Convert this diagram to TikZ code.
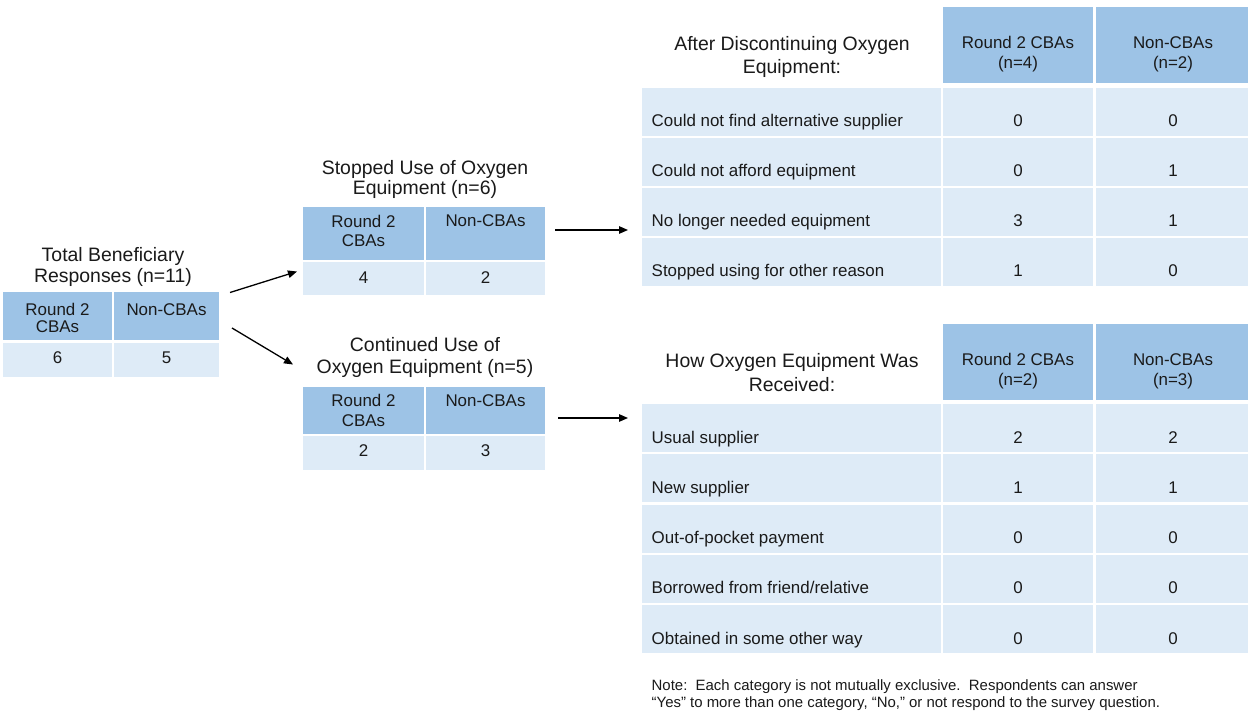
\documentclass[tikz,border=0pt]{standalone}
\usepackage{fontspec}
\setmainfont{Liberation Sans}
\usetikzlibrary{arrows.meta}
\definecolor{hdrblue}{HTML}{9DC3E6}
\definecolor{rowblue}{HTML}{DEEBF7}
\definecolor{txt}{HTML}{1A1A1A}
\tikzset{
  hdrcell/.style={fill=hdrblue},
  rowcell/.style={fill=rowblue},
  ttl/.style={font=\fontsize{19.5}{21}\selectfont, align=center, anchor=base},
  cel/.style={font=\fontsize{17}{19}\selectfont, align=center, anchor=base},
  lab/.style={font=\fontsize{17}{19}\selectfont, anchor=base west},
  notetxt/.style={font=\fontsize{15}{17}\selectfont, align=left, anchor=base west},
  conn/.style={line width=1.3bp, -{Triangle[length=9bp,width=7.5bp]}}
}
\begin{document}
\begin{tikzpicture}[x=1bp, y=-1bp, every node/.style={text=txt, inner sep=0pt}]
\useasboundingbox[fill=white] (0,0) rectangle (1248,711);
% (multi-line nodes: anchor base = baseline of the last line)

% ---------- left table ----------
\node[ttl, font=\fontsize{19.5}{21}\selectfont] (ltitle) at (113,282) {Total Beneficiary\\Responses (n=11)};
\fill[hdrcell] (3,292) rectangle (112,340);
\fill[hdrcell] (114,292) rectangle (219,340);
\fill[rowcell] (3,342.5) rectangle (112,377);
\fill[rowcell] (114,342.5) rectangle (219,377);
\node[cel, font=\fontsize{17}{17}\selectfont] (lh1) at (57.5,332) {Round 2\\CBAs};
\node[cel] (lh2) at (166.5,315) {Non-CBAs};
\node[cel] (lv1) at (57.5,363) {6};
\node[cel] (lv2) at (166.5,363) {5};

% ---------- middle top table ----------
\node[ttl, font=\fontsize{19.5}{20.5}\selectfont] (mttitle) at (425,194.5) {Stopped Use of Oxygen\\Equipment (n=6)};
\fill[hdrcell] (303,207) rectangle (424,260);
\fill[hdrcell] (426,207) rectangle (545,260);
\fill[rowcell] (303,262) rectangle (424,294.5);
\fill[rowcell] (426,262) rectangle (545,294.5);
\node[cel, font=\fontsize{17}{19.5}\selectfont] (mth1) at (363.5,246.5) {Round 2\\CBAs};
\node[cel] (mth2) at (485.5,227) {Non-CBAs};
\node[cel] (mtv1) at (363.5,283.3) {4};
\node[cel] (mtv2) at (485.5,283.3) {2};

% ---------- middle bottom table ----------
\node[ttl, font=\fontsize{19.5}{22}\selectfont] (mbtitle) at (425,373) {Continued Use of\\Oxygen Equipment (n=5)};
\fill[hdrcell] (303,387) rectangle (424,434);
\fill[hdrcell] (426,387) rectangle (545,434);
\fill[rowcell] (303,436) rectangle (424,470);
\fill[rowcell] (426,436) rectangle (545,470);
\node[cel, font=\fontsize{17}{20}\selectfont] (mbh1) at (363.5,426.7) {Round 2\\CBAs};
\node[cel] (mbh2) at (485.5,406.7) {Non-CBAs};
\node[cel] (mbv1) at (363.5,456.7) {2};
\node[cel] (mbv2) at (485.5,456.7) {3};

% ---------- right top table ----------
\node[ttl, font=\fontsize{19.5}{24}\selectfont] (rttitle) at (792,74) {After Discontinuing Oxygen\\Equipment:};
\fill[hdrcell] (943,7) rectangle (1093,83);
\fill[hdrcell] (1096,7) rectangle (1248,83);
\node[cel, font=\fontsize{17}{20.5}\selectfont] (rth1) at (1018,68.5) {Round 2 CBAs\\(n=4)};
\node[cel, font=\fontsize{17}{20.5}\selectfont] (rth2) at (1173,68.5) {Non-CBAs\\(n=2)};
\foreach \i/\lbl/\va/\vb in {0/Could not find alternative supplier/0/0,
                             1/Could not afford equipment/0/1,
                             2/No longer needed equipment/3/1,
                             3/Stopped using for other reason/1/0}{
  \pgfmathsetmacro{\top}{88+50*\i}
  \fill[rowcell] (642,\top) rectangle (941,\top+48);
  \fill[rowcell] (943,\top) rectangle (1093,\top+48);
  \fill[rowcell] (1096,\top) rectangle (1248,\top+48);
  \node[lab] (rtl\i) at (651.5,\top+38.5) {\lbl};
  \node[cel] (rta\i) at (1018,\top+38.5) {\va};
  \node[cel] (rtb\i) at (1173,\top+38.5) {\vb};
}

% ---------- right bottom table ----------
\node[ttl, font=\fontsize{19.5}{24}\selectfont] (rbtitle) at (792,391) {How Oxygen Equipment Was\\Received:};
\fill[hdrcell] (943,324) rectangle (1093,400);
\fill[hdrcell] (1096,324) rectangle (1248,400);
\node[cel, font=\fontsize{17}{20}\selectfont] (rbh1) at (1018,385) {Round 2 CBAs\\(n=2)};
\node[cel, font=\fontsize{17}{20}\selectfont] (rbh2) at (1173,385) {Non-CBAs\\(n=3)};
\foreach \i/\lbl/\va/\vb in {0/Usual supplier/2/2,
                             1/New supplier/1/1,
                             2/Out-of-pocket payment/0/0,
                             3/Borrowed from friend\slash relative/0/0,
                             4/Obtained in some other way/0/0}{
  \pgfmathsetmacro{\top}{404+50.25*\i}
  \fill[rowcell] (642,\top) rectangle (941,\top+48);
  \fill[rowcell] (943,\top) rectangle (1093,\top+48);
  \fill[rowcell] (1096,\top) rectangle (1248,\top+48);
  \node[lab] (rbl\i) at (651.5,\top+39) {\lbl};
  \node[cel] (rba\i) at (1018,\top+39) {\va};
  \node[cel] (rbb\i) at (1173,\top+39) {\vb};
}

% ---------- note ----------
\node[notetxt] (note) at (651.5,707) {Note:\ \ Each category is not mutually exclusive.\ \ Respondents can answer\\“Yes” to more than one category, “No,” or not respond to the survey question.};

% ---------- connectors ----------
\coordinate (a1s) at (230,292.5);
\coordinate (a1e) at (297,271.5);
\coordinate (a2s) at (232,328);
\coordinate (a2e) at (293,364.5);
\coordinate (a3s) at (555,230);
\coordinate (a3e) at (628,230);
\coordinate (a4s) at (558,418);
\coordinate (a4e) at (628,418);
\draw[conn] (a1s) -- (a1e);
\draw[conn] (a2s) -- (a2e);
\draw[conn] (a3s) -- (a3e);
\draw[conn] (a4s) -- (a4e);
\end{tikzpicture}
\end{document}
